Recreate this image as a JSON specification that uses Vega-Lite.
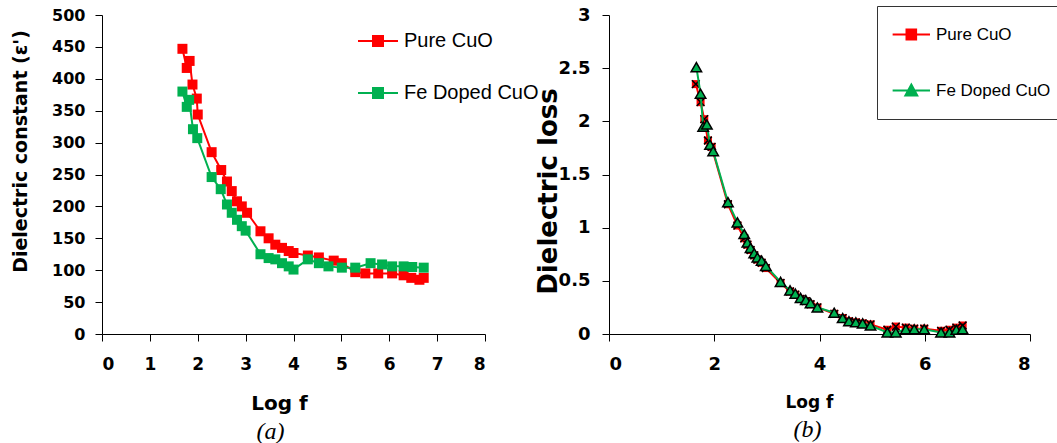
{
  "$schema": "https://vega.github.io/schema/vega-lite/v6.json",
  "background": "white",
  "padding": {"left": 11, "top": 5, "right": 0, "bottom": 0},
  "config": {
    "view": {"stroke": null},
    "axis": {"grid": false, "domainColor": "black", "tickColor": "black", "labelColor": "black", "titleColor": "black", "labelFont": "DejaVu Sans", "labelFontWeight": "bold", "titleFont": "DejaVu Sans", "titleFontWeight": "bold", "tickSize": 7, "domainWidth": 1, "tickWidth": 1}
  },
  "datasets": {
    "a": [
      {"x":1.68,"y":447,"s":"Pure CuO"},{"x":1.77,"y":417,"s":"Pure CuO"},{"x":1.83,"y":428,"s":"Pure CuO"},{"x":1.89,"y":391,"s":"Pure CuO"},{"x":1.98,"y":369,"s":"Pure CuO"},{"x":2.0,"y":344,"s":"Pure CuO"},{"x":2.29,"y":285,"s":"Pure CuO"},{"x":2.49,"y":257,"s":"Pure CuO"},{"x":2.61,"y":239,"s":"Pure CuO"},{"x":2.71,"y":224,"s":"Pure CuO"},{"x":2.82,"y":208,"s":"Pure CuO"},{"x":2.92,"y":200,"s":"Pure CuO"},{"x":3.03,"y":190,"s":"Pure CuO"},{"x":3.31,"y":161,"s":"Pure CuO"},{"x":3.48,"y":150,"s":"Pure CuO"},{"x":3.62,"y":140,"s":"Pure CuO"},{"x":3.76,"y":135,"s":"Pure CuO"},{"x":3.9,"y":130,"s":"Pure CuO"},{"x":4.0,"y":127,"s":"Pure CuO"},{"x":4.3,"y":123,"s":"Pure CuO"},{"x":4.53,"y":120,"s":"Pure CuO"},{"x":4.84,"y":115,"s":"Pure CuO"},{"x":5.01,"y":111,"s":"Pure CuO"},{"x":5.29,"y":97,"s":"Pure CuO"},{"x":5.5,"y":95,"s":"Pure CuO"},{"x":5.77,"y":95,"s":"Pure CuO"},{"x":6.06,"y":95,"s":"Pure CuO"},{"x":6.3,"y":92,"s":"Pure CuO"},{"x":6.46,"y":88,"s":"Pure CuO"},{"x":6.63,"y":85,"s":"Pure CuO"},{"x":6.72,"y":88,"s":"Pure CuO"},
      {"x":1.68,"y":380,"s":"Fe Doped CuO"},{"x":1.77,"y":356,"s":"Fe Doped CuO"},{"x":1.82,"y":367,"s":"Fe Doped CuO"},{"x":1.9,"y":321,"s":"Fe Doped CuO"},{"x":1.99,"y":307,"s":"Fe Doped CuO"},{"x":2.29,"y":246,"s":"Fe Doped CuO"},{"x":2.48,"y":227,"s":"Fe Doped CuO"},{"x":2.61,"y":203,"s":"Fe Doped CuO"},{"x":2.71,"y":190,"s":"Fe Doped CuO"},{"x":2.82,"y":179,"s":"Fe Doped CuO"},{"x":2.92,"y":169,"s":"Fe Doped CuO"},{"x":3.0,"y":162,"s":"Fe Doped CuO"},{"x":3.31,"y":125,"s":"Fe Doped CuO"},{"x":3.48,"y":119,"s":"Fe Doped CuO"},{"x":3.62,"y":117,"s":"Fe Doped CuO"},{"x":3.76,"y":111,"s":"Fe Doped CuO"},{"x":3.9,"y":106,"s":"Fe Doped CuO"},{"x":4.0,"y":101,"s":"Fe Doped CuO"},{"x":4.3,"y":117,"s":"Fe Doped CuO"},{"x":4.53,"y":111,"s":"Fe Doped CuO"},{"x":4.73,"y":106,"s":"Fe Doped CuO"},{"x":5.01,"y":104,"s":"Fe Doped CuO"},{"x":5.29,"y":104,"s":"Fe Doped CuO"},{"x":5.61,"y":111,"s":"Fe Doped CuO"},{"x":5.85,"y":109,"s":"Fe Doped CuO"},{"x":6.06,"y":106,"s":"Fe Doped CuO"},{"x":6.3,"y":106,"s":"Fe Doped CuO"},{"x":6.48,"y":105,"s":"Fe Doped CuO"},{"x":6.72,"y":104,"s":"Fe Doped CuO"}
    ],
    "b": [
      {"x":1.65,"y":2.35,"s":"Pure CuO"},{"x":1.74,"y":2.18,"s":"Pure CuO"},{"x":1.81,"y":2.02,"s":"Pure CuO"},{"x":1.88,"y":1.82,"s":"Pure CuO"},{"x":1.95,"y":1.76,"s":"Pure CuO"},{"x":2.26,"y":1.22,"s":"Pure CuO"},{"x":2.44,"y":1.02,"s":"Pure CuO"},{"x":2.57,"y":0.9,"s":"Pure CuO"},{"x":2.63,"y":0.84,"s":"Pure CuO"},{"x":2.69,"y":0.79,"s":"Pure CuO"},{"x":2.76,"y":0.74,"s":"Pure CuO"},{"x":2.82,"y":0.7,"s":"Pure CuO"},{"x":2.9,"y":0.67,"s":"Pure CuO"},{"x":2.98,"y":0.62,"s":"Pure CuO"},{"x":3.26,"y":0.48,"s":"Pure CuO"},{"x":3.44,"y":0.4,"s":"Pure CuO"},{"x":3.54,"y":0.37,"s":"Pure CuO"},{"x":3.64,"y":0.33,"s":"Pure CuO"},{"x":3.74,"y":0.31,"s":"Pure CuO"},{"x":3.83,"y":0.28,"s":"Pure CuO"},{"x":3.96,"y":0.25,"s":"Pure CuO"},{"x":4.28,"y":0.19,"s":"Pure CuO"},{"x":4.44,"y":0.15,"s":"Pure CuO"},{"x":4.56,"y":0.12,"s":"Pure CuO"},{"x":4.69,"y":0.11,"s":"Pure CuO"},{"x":4.82,"y":0.1,"s":"Pure CuO"},{"x":4.97,"y":0.09,"s":"Pure CuO"},{"x":5.29,"y":0.04,"s":"Pure CuO"},{"x":5.45,"y":0.07,"s":"Pure CuO"},{"x":5.64,"y":0.06,"s":"Pure CuO"},{"x":5.8,"y":0.05,"s":"Pure CuO"},{"x":5.99,"y":0.05,"s":"Pure CuO"},{"x":6.31,"y":0.03,"s":"Pure CuO"},{"x":6.47,"y":0.04,"s":"Pure CuO"},{"x":6.6,"y":0.06,"s":"Pure CuO"},{"x":6.72,"y":0.08,"s":"Pure CuO"},
      {"x":1.66,"y":2.51,"s":"Fe Doped CuO"},{"x":1.74,"y":2.26,"s":"Fe Doped CuO"},{"x":1.79,"y":1.95,"s":"Fe Doped CuO"},{"x":1.86,"y":1.97,"s":"Fe Doped CuO"},{"x":1.92,"y":1.78,"s":"Fe Doped CuO"},{"x":1.98,"y":1.72,"s":"Fe Doped CuO"},{"x":2.26,"y":1.24,"s":"Fe Doped CuO"},{"x":2.44,"y":1.05,"s":"Fe Doped CuO"},{"x":2.57,"y":0.94,"s":"Fe Doped CuO"},{"x":2.63,"y":0.86,"s":"Fe Doped CuO"},{"x":2.69,"y":0.81,"s":"Fe Doped CuO"},{"x":2.76,"y":0.76,"s":"Fe Doped CuO"},{"x":2.82,"y":0.72,"s":"Fe Doped CuO"},{"x":2.9,"y":0.69,"s":"Fe Doped CuO"},{"x":2.98,"y":0.64,"s":"Fe Doped CuO"},{"x":3.26,"y":0.49,"s":"Fe Doped CuO"},{"x":3.44,"y":0.41,"s":"Fe Doped CuO"},{"x":3.54,"y":0.38,"s":"Fe Doped CuO"},{"x":3.64,"y":0.34,"s":"Fe Doped CuO"},{"x":3.74,"y":0.32,"s":"Fe Doped CuO"},{"x":3.83,"y":0.29,"s":"Fe Doped CuO"},{"x":3.96,"y":0.25,"s":"Fe Doped CuO"},{"x":4.28,"y":0.2,"s":"Fe Doped CuO"},{"x":4.44,"y":0.15,"s":"Fe Doped CuO"},{"x":4.56,"y":0.12,"s":"Fe Doped CuO"},{"x":4.69,"y":0.11,"s":"Fe Doped CuO"},{"x":4.82,"y":0.1,"s":"Fe Doped CuO"},{"x":4.97,"y":0.08,"s":"Fe Doped CuO"},{"x":5.29,"y":0.015,"s":"Fe Doped CuO"},{"x":5.45,"y":0.015,"s":"Fe Doped CuO"},{"x":5.64,"y":0.045,"s":"Fe Doped CuO"},{"x":5.8,"y":0.045,"s":"Fe Doped CuO"},{"x":5.99,"y":0.045,"s":"Fe Doped CuO"},{"x":6.31,"y":0.015,"s":"Fe Doped CuO"},{"x":6.47,"y":0.015,"s":"Fe Doped CuO"},{"x":6.6,"y":0.04,"s":"Fe Doped CuO"},{"x":6.72,"y":0.045,"s":"Fe Doped CuO"}
    ]
  },
  "bounds": "flush",
  "spacing": 124,
  "resolve": {"scale": {"fill": "independent", "stroke": "independent", "shape": "independent"}, "legend": {"fill": "independent", "stroke": "independent", "shape": "independent"}},
  "hconcat": [
    {
      "width": 383, "height": 319,
      "data": {"name": "a"},
      "title": {"text": "(a)", "orient": "bottom", "font": "Liberation Serif", "fontStyle": "italic", "fontWeight": "normal", "fontSize": 24, "color": "black", "dx": -23, "offset": 7},
      "encoding": {
        "x": {"field": "x", "type": "quantitative", "scale": {"domain": [0, 8], "nice": false}, "axis": {"values": [0,1,2,3,4,5,6,7,8], "title": "Log f", "titleFontSize": 20, "labelFontSize": 17, "labelPadding": 15, "titlePadding": 21, "titleX": 177}},
        "y": {"field": "y", "type": "quantitative", "scale": {"domain": [0, 500], "nice": false}, "axis": {"values": [0,50,100,150,200,250,300,350,400,450,500], "title": "Dielectric constant (ε')", "titleFontSize": 19, "labelFontSize": 16, "labelPadding": 10, "titlePadding": 21, "titleY": 136}}
      },
      "layer": [
        {"transform": [{"filter": "datum.s === 'Pure CuO'"}], "mark": {"type": "line", "color": "#ff0000", "strokeWidth": 2}},
        {"transform": [{"filter": "datum.s === 'Pure CuO'"}], "mark": {"type": "point", "shape": "square", "filled": true, "color": "#ff0000", "size": 100, "opacity": 1}},
        {"transform": [{"filter": "datum.s === 'Fe Doped CuO'"}], "mark": {"type": "line", "color": "#00b050", "strokeWidth": 2}},
        {"transform": [{"filter": "datum.s === 'Fe Doped CuO'"}], "mark": {"type": "point", "shape": "square", "filled": true, "color": "#00b050", "size": 100, "opacity": 1}},
        {"transform": [{"filter": "false"}], "mark": {"type": "point", "filled": true},
         "encoding": {
           "fill": {"field": "s", "type": "nominal", "scale": {"domain": ["Pure CuO", "Fe Doped CuO"], "range": ["#ff0000", "#00b050"]}, "legend": {"orient": "none", "legendX": 255, "legendY": 6, "title": null, "padding": 0, "symbolSize": 1600, "clipHeight": 40, "symbolStrokeWidth": 2, "labelFont": "Liberation Sans", "labelFontSize": 20, "labelColor": "black", "labelOffset": 5, "rowPadding": 12, "labelLimit": 300, "symbolOpacity": 1, "strokeColor": null}},
           "stroke": {"field": "s", "type": "nominal", "scale": {"domain": ["Pure CuO", "Fe Doped CuO"], "range": ["#ff0000", "#00b050"]}, "legend": {"orient": "none", "legendX": 255, "legendY": 6, "title": null, "padding": 0, "symbolSize": 1600, "clipHeight": 40, "symbolStrokeWidth": 2, "labelFont": "Liberation Sans", "labelFontSize": 20, "labelColor": "black", "labelOffset": 5, "rowPadding": 12, "labelLimit": 300, "symbolOpacity": 1, "strokeColor": null}},
           "shape": {"field": "s", "type": "nominal", "scale": {"domain": ["Pure CuO", "Fe Doped CuO"], "range": ["M-1,0H1M-0.25,-0.25H0.25V0.25H-0.25Z", "M-1,0H1M-0.25,-0.25H0.25V0.25H-0.25Z"]}, "legend": {"orient": "none", "legendX": 255, "legendY": 6, "title": null, "padding": 0, "symbolSize": 1600, "clipHeight": 40, "symbolStrokeWidth": 2, "labelFont": "Liberation Sans", "labelFontSize": 20, "labelColor": "black", "labelOffset": 5, "rowPadding": 12, "labelLimit": 300, "symbolOpacity": 1, "strokeColor": null}}
         }}
      ]
    },
    {
      "width": 421, "height": 319,
      "data": {"name": "b"},
      "title": {"text": "(b)", "orient": "bottom", "font": "Liberation Serif", "fontStyle": "italic", "fontWeight": "normal", "fontSize": 24, "color": "black", "dx": -12, "offset": 8},
      "encoding": {
        "x": {"field": "x", "type": "quantitative", "scale": {"domain": [0, 8], "nice": false}, "axis": {"values": [0,2,4,6,8], "title": "Log f", "titleFontSize": 17, "labelFontSize": 18, "labelPadding": 14, "titlePadding": 21, "titleX": 200}},
        "y": {"field": "y", "type": "quantitative", "scale": {"domain": [0, 3], "nice": false}, "axis": {"values": [0,0.5,1,1.5,2,2.5,3], "format": "~g", "title": "Dielectric loss", "titleFontSize": 26, "labelFontSize": 18, "labelPadding": 12, "titlePadding": -3, "titleY": 176}}
      },
      "layer": [
        {"transform": [{"filter": "datum.s === 'Pure CuO'"}], "mark": {"type": "line", "color": "#ff0000", "strokeWidth": 2}},
        {"transform": [{"filter": "datum.s === 'Pure CuO'"}], "mark": {"type": "point", "shape": "square", "filled": true, "color": "#ff0000", "size": 64, "opacity": 1}},
        {"transform": [{"filter": "datum.s === 'Pure CuO'"}], "mark": {"type": "point", "shape": "M-1,-1L1,1M-1,1L1,-1", "filled": false, "color": "black", "strokeWidth": 1.5, "size": 60, "opacity": 1}},
        {"transform": [{"filter": "datum.s === 'Fe Doped CuO'"}], "mark": {"type": "line", "color": "#00b050", "strokeWidth": 2}},
        {"transform": [{"filter": "datum.s === 'Fe Doped CuO'"}], "mark": {"type": "point", "shape": "triangle-up", "filled": true, "fill": "#00b050", "stroke": "black", "strokeWidth": 1.5, "size": 110, "opacity": 1}},
        {"transform": [{"filter": "false"}], "mark": {"type": "point", "filled": true},
         "encoding": {
           "fill": {"field": "s", "type": "nominal", "scale": {"domain": ["Pure CuO", "Fe Doped CuO"], "range": ["#ff0000", "#00b050"]}, "legend": {"orient": "none", "legendX": 268, "legendY": -9, "title": null, "padding": 10, "symbolSize": 1369, "clipHeight": 37, "symbolStrokeWidth": 2, "labelFont": "Liberation Sans", "labelFontSize": 17, "labelColor": "black", "labelOffset": 10, "rowPadding": 19, "labelLimit": 300, "symbolOpacity": 1, "strokeColor": "#333333", "fillColor": "white"}},
           "stroke": {"field": "s", "type": "nominal", "scale": {"domain": ["Pure CuO", "Fe Doped CuO"], "range": ["#ff0000", "#00b050"]}, "legend": {"orient": "none", "legendX": 268, "legendY": -9, "title": null, "padding": 10, "symbolSize": 1369, "clipHeight": 37, "symbolStrokeWidth": 2, "labelFont": "Liberation Sans", "labelFontSize": 17, "labelColor": "black", "labelOffset": 10, "rowPadding": 19, "labelLimit": 300, "symbolOpacity": 1, "strokeColor": "#333333", "fillColor": "white"}},
           "shape": {"field": "s", "type": "nominal", "scale": {"domain": ["Pure CuO", "Fe Doped CuO"], "range": ["M-0.75,0H1.27M0,-0.27H0.52V0.27H0Z", "M-0.75,0H1.27M0.26,-0.32L0.58,0.27L-0.06,0.27Z"]}, "legend": {"orient": "none", "legendX": 268, "legendY": -9, "title": null, "padding": 10, "symbolSize": 1369, "clipHeight": 37, "symbolStrokeWidth": 2, "labelFont": "Liberation Sans", "labelFontSize": 17, "labelColor": "black", "labelOffset": 10, "rowPadding": 19, "labelLimit": 300, "symbolOpacity": 1, "strokeColor": "#333333", "fillColor": "white"}}
         }}
      ]
    }
  ]
}
